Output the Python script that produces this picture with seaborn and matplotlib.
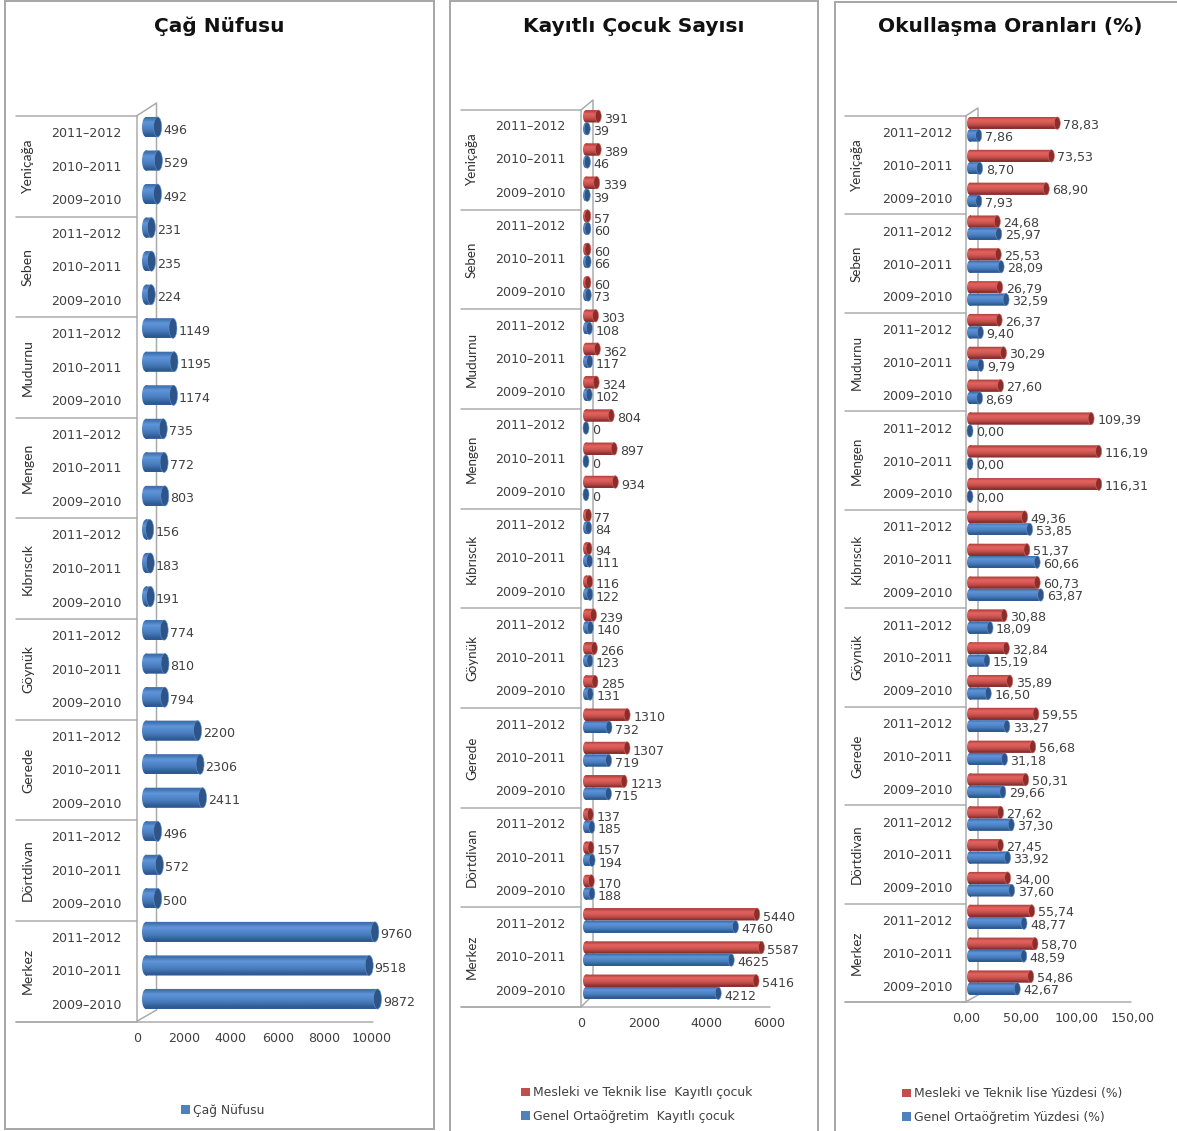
import numpy as np
import pandas as pd
import matplotlib
matplotlib.use("Agg")
import matplotlib.pyplot as plt
from matplotlib.lines import Line2D
from matplotlib.patches import Ellipse, Rectangle
from matplotlib.path import Path
from matplotlib.transforms import Affine2D, ScaledTranslation
from matplotlib.colors import to_rgb
import seaborn as sns

# ---------- data ----------
districts = ["Yeniçağa", "Seben", "Mudurnu", "Mengen", "Kıbrıscık",
             "Göynük", "Gerede", "Dörtdivan", "Merkez"]
years = ["2011–2012", "2010–2011", "2009–2010"]

cag_nufusu = [496, 529, 492, 231, 235, 224, 1149, 1195, 1174,
              735, 772, 803, 156, 183, 191, 774, 810, 794,
              2200, 2306, 2411, 496, 572, 500, 9760, 9518, 9872]

mesleki_kayitli = [391, 389, 339, 57, 60, 60, 303, 362, 324,
                   804, 897, 934, 77, 94, 116, 239, 266, 285,
                   1310, 1307, 1213, 137, 157, 170, 5440, 5587, 5416]
genel_kayitli = [39, 46, 39, 60, 66, 73, 108, 117, 102,
                 0, 0, 0, 84, 111, 122, 140, 123, 131,
                 732, 719, 715, 185, 194, 188, 4760, 4625, 4212]

mesleki_oran = [78.83, 73.53, 68.90, 24.68, 25.53, 26.79, 26.37, 30.29, 27.60,
                109.39, 116.19, 116.31, 49.36, 51.37, 60.73, 30.88, 32.84, 35.89,
                59.55, 56.68, 50.31, 27.62, 27.45, 34.00, 55.74, 58.70, 54.86]
genel_oran = [7.86, 8.70, 7.93, 25.97, 28.09, 32.59, 9.40, 9.79, 8.69,
              0.00, 0.00, 0.00, 53.85, 60.66, 63.87, 18.09, 15.19, 16.50,
              33.27, 31.18, 29.66, 37.30, 33.92, 37.60, 48.77, 48.59, 42.67]

titles = ["Çağ Nüfusu", "Kayıtlı Çocuk Sayısı", "Okullaşma Oranları (%)"]
series_1 = {"Çağ Nüfusu": cag_nufusu}
series_2 = {"Mesleki ve Teknik lise  Kayıtlı çocuk": mesleki_kayitli,
            "Genel Ortaöğretim  Kayıtlı çocuk": genel_kayitli}
series_3 = {"Mesleki ve Teknik lise Yüzdesi (%)": mesleki_oran,
            "Genel Ortaöğretim Yüzdesi (%)": genel_oran}
ticks_1 = [0, 2000, 4000, 6000, 8000, 10000]
ticks_2 = [0, 2000, 4000, 6000]
ticks_3 = [0, 50, 100, 150]

# ---------- figure ----------
W, H = 1177, 1131
DPI = 100
sns.set_theme(style="white")
plt.rcParams["font.family"] = ["DejaVu Sans"]
fig = plt.figure(figsize=(W / DPI, H / DPI), dpi=DPI, facecolor="white")
PT = 72 / DPI
TXT = "#404040"
LINE = "#aaaaaa"

BLUE, RED = "#4f81bd", "#c0504d"
GRAD = {BLUE: ["#3f70ae", "#5f95d8", "#5288cb", "#4476b5", "#2f5a92"],
        RED: ["#b84542", "#e3625e", "#d75a56", "#b84a46", "#8a3030"]}
CAP = {BLUE: "#2f5488", RED: "#8a2e2c"}


def fx(x):
    return x / W


def fy(y):
    return 1 - y / H


def fline(xs, ys, color=LINE, lw=1.5):
    fig.add_artist(Line2D([fx(x) for x in xs], [fy(y) for y in ys], color=color,
                          lw=lw * PT, transform=fig.transFigure, zorder=-1))


def frame(x0, y0, x1, y1):
    fig.add_artist(Rectangle((fx(x0), fy(y1)), (x1 - x0) / W, (y1 - y0) / H, fill=False,
                             ec="#a8a8a8", lw=2 * PT, transform=fig.transFigure, zorder=-2))


def panel(series, ticks, palette, title, title_x, fmt, tickfmt, c0, c_last, bar_width,
          zero_px, scale, tick_off, year_off, year_pad, tick_pad, right_px,
          sep_top, sep_bot, sep_left, front, back, back_top, back_bot, floor_end,
          dist_x, dist_fs, rx, lab_pad, lab_dy, leg_x, leg_ys):
    spacing = (c_last - c0) / 26
    top = c0 - spacing / 2
    bottom = top + 27 * spacing
    ax = fig.add_axes([fx(zero_px), fy(bottom), (right_px - zero_px) / W, (bottom - top) / H])
    ax.patch.set_visible(False)

    keys = [f"{d}|{y}" for d in districts for y in years]
    df = pd.concat([pd.DataFrame({"key": keys, "value": vals, "series": name})
                    for name, vals in series.items()])
    sns.barplot(data=df, y="key", x="value", hue="series", order=keys,
                hue_order=list(series), palette=palette, orient="h",
                width=bar_width, ax=ax, errorbar=None, saturation=1, linewidth=0)

    ax.set_xlim(0, (right_px - zero_px) / scale)
    ax.set_ylim(26.5, -0.5)
    ax.autoscale(False)
    for s in ax.spines.values():
        s.set_visible(False)
    ax.set_xlabel("")
    ax.set_ylabel("")

    ax.set_yticks(range(27))
    ax.set_yticklabels([y for _ in districts for y in years])
    ax.tick_params(axis="y", length=0, pad=year_pad * PT, labelsize=9.1, labelcolor=TXT)
    ax.set_xticks(ticks)
    ax.set_xticklabels([tickfmt(t) for t in ticks])
    ax.tick_params(axis="x", length=0, pad=tick_pad * PT, labelsize=9.1, labelcolor=TXT)
    for lab in ax.get_yticklabels():
        lab.set_transform(lab.get_transform() + ScaledTranslation(0, -year_off / DPI, fig.dpi_scale_trans))
    for lab in ax.get_xticklabels():
        lab.set_transform(lab.get_transform() + ScaledTranslation(tick_off / DPI, 0, fig.dpi_scale_trans))

    # cylinders built on the bars the library drew
    dx = rx / scale
    for container, color in zip(ax.containers, palette):
        grad = np.array([[to_rgb(c)] for c in GRAD[color]])
        for bar in container:
            w = bar.get_width()
            y0, h = bar.get_y(), bar.get_height()
            yc = y0 + h / 2
            bar.set_visible(False)
            # rounded near end + body share one gradient, clipped to their outline
            end = Path.unit_circle().transformed(Affine2D().scale(dx, h / 2).translate(0, yc))
            body = Path.unit_rectangle().transformed(Affine2D().scale(w, h).translate(0, y0))
            img = ax.imshow(grad, extent=(-dx, w + dx * 0.1, y0 + h, y0), aspect="auto",
                            interpolation="bilinear", zorder=3.5)
            img.set_clip_box(fig.bbox)
            img.set_clip_path(Path.make_compound_path(end, body), ax.transData)
            ax.add_patch(Ellipse((w, yc), 2 * dx, h, fc=CAP[color], ec=GRAD[color][1],
                                 lw=0.4, zorder=4, clip_on=False))
            ax.annotate(fmt(w), (w, yc), xytext=((rx + lab_pad) * PT, -lab_dy * PT),
                        textcoords="offset points", ha="left", va="center",
                        fontsize=9.1, color=TXT, zorder=5)
    ax.set_xlim(0, (right_px - zero_px) / scale)
    ax.set_ylim(26.5, -0.5)

    # 3-D wall, floor and district separators
    sep_step = (sep_bot - sep_top) / 9
    for k in range(10):
        y = sep_top + k * sep_step
        fline([sep_left, front], [y, y])
    for k, d in enumerate(districts):
        fig.text(fx(dist_x), fy(sep_top + (k + 0.5) * sep_step), d, rotation=90,
                 ha="center", va="center", fontsize=dist_fs,
                 family=["Liberation Sans Narrow", "Lato"], color="#303030")
    fline([front, front], [sep_top, sep_bot])
    fline([front, back, back], [sep_top, back_top, back_bot])
    fline([front, back], [sep_bot, back_bot])
    fline([sep_left, floor_end], [sep_bot, sep_bot])

    fig.text(fx(title_x), fy(26), title, ha="center", va="center", fontsize=14.5,
             fontweight="bold", color="#111111")

    row_gap = leg_ys[1] - leg_ys[0] if len(leg_ys) > 1 else 0
    fs = 8.9
    px_fs = fs / PT
    sns.move_legend(ax, "center left", title=None, frameon=False,
                    bbox_to_anchor=(fx(leg_x), fy(sum(leg_ys) / len(leg_ys))),
                    bbox_transform=fig.transFigure, fontsize=fs, borderpad=0,
                    borderaxespad=0, handlelength=9 / px_fs, handleheight=0.7,
                    handletextpad=3 / px_fs,
                    labelspacing=(row_gap - px_fs) / px_fs if row_gap else 0.5,
                    labelcolor=TXT)
    return ax


frame(5, 1, 434, 1129)
frame(450, 1, 818, 1140)
frame(835, 2, 1190, 1140)

int_fmt = lambda v: f"{int(round(v))}"
dec_fmt = lambda v: f"{v:.2f}".replace(".", ",")

panel(series_1, ticks_1, [BLUE], titles[0], 219, int_fmt, int_fmt,
      c0=127, c_last=999, bar_width=0.6, zero_px=146, scale=23.45 / 1000, tick_off=-9,
      year_off=5, year_pad=24, tick_pad=16, right_px=430,
      sep_top=116, sep_bot=1021.5, sep_left=16, front=136.5, back=156.5,
      back_top=103, back_bot=1010, floor_end=373, dist_x=28, dist_fs=10, rx=4,
      lab_pad=1.5, lab_dy=3, leg_x=181, leg_ys=[1110.5])

panel(series_2, ticks_2, [RED, BLUE], titles[1], 634, int_fmt, int_fmt,
      c0=122.5, c_last=987, bar_width=0.75, zero_px=586, scale=31.4 / 1000, tick_off=-5,
      year_off=2.5, year_pad=20.5, tick_pad=13, right_px=815,
      sep_top=110, sep_bot=1007, sep_left=461, front=581, back=593,
      back_top=100, back_bot=995, floor_end=770, dist_x=472, dist_fs=9.6, rx=3,
      lab_pad=3, lab_dy=3, leg_x=521, leg_ys=[1093, 1116])

panel(series_3, ticks_3, [RED, BLUE], titles[2], 1010, dec_fmt, dec_fmt,
      c0=129.3, c_last=982.7, bar_width=0.75, zero_px=970, scale=1.107, tick_off=-4,
      year_off=3, year_pad=17.5, tick_pad=13, right_px=1170,
      sep_top=116, sep_bot=1002, sep_left=845, front=965.5, back=978,
      back_top=108, back_bot=995, floor_end=1131, dist_x=857, dist_fs=9.6, rx=3,
      lab_pad=3, lab_dy=2, leg_x=902, leg_ys=[1094, 1117])

fig.savefig("out.png", dpi=DPI, facecolor="white")
